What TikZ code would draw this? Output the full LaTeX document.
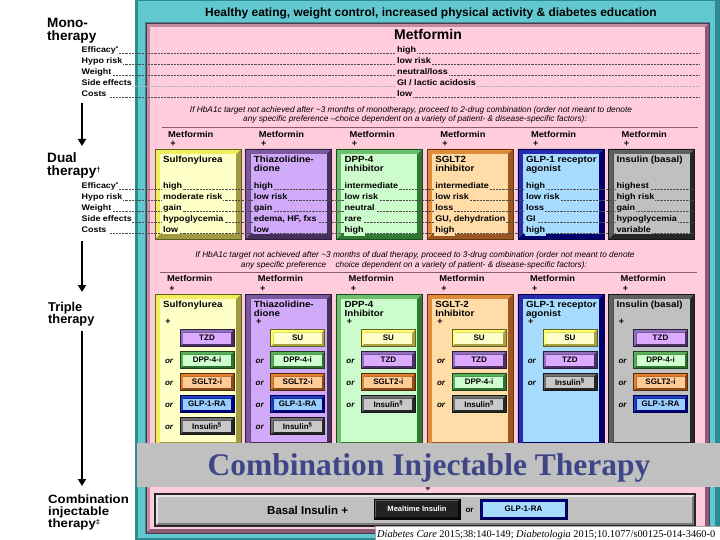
\documentclass[tikz,border=0pt]{standalone}
\usepackage{fontspec}
\setmainfont{Liberation Sans}
\newfontfamily\serf{Liberation Serif}
\newfontfamily\wsans{Liberation Sans}[FakeStretch=1.1]
\usetikzlibrary{arrows.meta}
\newcommand{\fsz}[1]{\fontsize{#1}{#1}\selectfont}
% frame colours
\definecolor{tealL}{HTML}{62C8D0}
\definecolor{tealD}{HTML}{2E8A92}
\definecolor{pkF}{HTML}{FFCCDC}
\definecolor{pkL}{HTML}{C48CA0}
\definecolor{pkD}{HTML}{8A5A78}
\definecolor{bandG}{HTML}{C0C0C0}
\definecolor{bandT}{HTML}{3E4688}
% big boxes
\definecolor{suF}{HTML}{FFFFC8}\definecolor{suL}{HTML}{F2EE5E}\definecolor{suD}{HTML}{A09A40}
\definecolor{tzF}{HTML}{D0AAF8}\definecolor{tzL}{HTML}{7A5A9E}\definecolor{tzD}{HTML}{45305C}
\definecolor{dpF}{HTML}{CCFCCC}\definecolor{dpL}{HTML}{6CBF6C}\definecolor{dpD}{HTML}{2F7A30}
\definecolor{sgF}{HTML}{FFDCA8}\definecolor{sgL}{HTML}{E08A3C}\definecolor{sgD}{HTML}{9A5520}
\definecolor{glF}{HTML}{A8DCFF}\definecolor{glL}{HTML}{2A2AB0}\definecolor{glD}{HTML}{00006E}
\definecolor{inF}{HTML}{C0C0C0}\definecolor{inL}{HTML}{606060}\definecolor{inD}{HTML}{262626}
% small boxes
\definecolor{sSUF}{HTML}{FFFFCC}\definecolor{sSUL}{HTML}{FFFF70}\definecolor{sSUD}{HTML}{A8A040}
\definecolor{sTZF}{HTML}{DCAAFF}\definecolor{sTZL}{HTML}{9070B8}\definecolor{sTZD}{HTML}{4A3060}
\definecolor{sDPF}{HTML}{D0FFD0}\definecolor{sDPL}{HTML}{5CB05C}\definecolor{sDPD}{HTML}{2E7030}
\definecolor{sSGF}{HTML}{FFCC99}\definecolor{sSGL}{HTML}{E08030}\definecolor{sSGD}{HTML}{8A4A18}
\definecolor{sGLF}{HTML}{99CCFF}\definecolor{sGLL}{HTML}{2040C0}\definecolor{sGLD}{HTML}{000080}
\definecolor{sINF}{HTML}{C8C8C8}\definecolor{sINL}{HTML}{707070}\definecolor{sIND}{HTML}{262626}
% bottom boxes
\definecolor{bsF}{HTML}{C0C0C0}\definecolor{bsL}{HTML}{E6E6E6}\definecolor{bsD}{HTML}{7A7A7A}
\definecolor{mtF}{HTML}{222222}\definecolor{mtL}{HTML}{606060}\definecolor{mtD}{HTML}{0A0A0A}
\definecolor{bgF}{HTML}{A8DCFF}\definecolor{bgL}{HTML}{000090}\definecolor{bgD}{HTML}{00006A}
% bevelled box: x1 y1 x2 y2 bevel family
\newcommand{\bev}[6]{%
  \fill[fill=#6D] ({#1},{#2}) rectangle ({#3},{#4});
  \fill[fill=#6L] ({#1},{#2}) -- ({#3},{#2}) -- ({#3-#5},{#2+#5}) -- ({#1+#5},{#2+#5}) -- ({#1+#5},{#4-#5}) -- ({#1},{#4}) -- cycle;
  \fill[fill=#6F] ({#1+#5},{#2+#5}) rectangle ({#3-#5},{#4-#5});
  \draw[draw=#6D!60!black, line width=0.5pt] ({#1},{#2}) rectangle ({#3},{#4});
}
\begin{document}
\begin{tikzpicture}[x=1pt,y=-1pt,
  lab/.style={anchor=base west, inner sep=0.5pt, fill=white, font=\wsans\fsz{8.1}\bfseries},
  bigl/.style={anchor=base west, inner sep=0pt, font=\fsz{13.6}\bfseries},
  rowt/.style={anchor=base west, inner sep=1pt, font=\wsans\fsz{8.2}\bfseries},
  boxt/.style={anchor=base west, inner sep=0pt, font=\wsans\fsz{8.9}\bfseries},
  colhd/.style={anchor=base west, inner sep=0pt, font=\wsans\fsz{8.5}\bfseries},
  plus/.style={inner sep=0pt, font=\fsz{9}\bfseries},
  note/.style={anchor=base, inner sep=0pt, font=\fsz{8.3}\itshape},
  dots/.style={densely dotted, line width=0.45pt, black!70},
  subt/.style={inner sep=0pt, font=\fsz{8}\bfseries},
  ortxt/.style={anchor=base, inner sep=0pt, font=\fsz{8}\bfseries\itshape},
  sepline/.style={draw=pkD, line width=1.6pt},
  arr/.style={line width=1.8pt, -{Triangle[width=8pt,length=7pt]}}]
\useasboundingbox (0,0) rectangle (720,540);
\fill[white] (0,0) rectangle (720,540);

% ---------- frames ----------
\fill[tealL] (135,0) rectangle (720,540);
\fill[tealD] (135,0) rectangle (137.5,540);
\fill[tealD] (714.5,0) rectangle (720,540);
\fill[tealD] (135,537.5) rectangle (720,540);
\fill[tealD] (135,0) rectangle (720,1.5);
\draw[tealD, line width=1.2pt] (145.4,22.4) rectangle (709.6,533.6);
\bev{146}{23}{709}{533}{4}{pk}
\node[anchor=base, inner sep=0pt, font=\fsz{11.95}\bfseries] (title) at (431,17)
  {Healthy eating, weight control, increased physical activity \& diabetes education};

% ---------- dual boxes ----------
\foreach \i/\cf in {0/su,1/tz,2/dp,3/sg,4/gl,5/in}{
  \pgfmathsetmacro\xL{155+90.7*\i}
  \bev{\xL}{149}{\xL+86}{239}{5}{\cf}
}
% ---------- triple boxes ----------
\foreach \i/\cf in {0/su,1/tz,2/dp,3/sg,4/gl,5/in}{
  \pgfmathsetmacro\xL{155+90.7*\i}
  \bev{\xL}{294}{\xL+86}{447}{5}{\cf}
}
% sub boxes
\foreach \i/\j/\cf/\t in {0/0/sTZ/TZD,0/1/sDP/DPP-4-i,0/2/sSG/SGLT2-i,0/3/sGL/GLP-1-RA,0/4/sIN/Insulin\textsuperscript{\S},
  1/0/sSU/SU,1/1/sDP/DPP-4-i,1/2/sSG/SGLT2-i,1/3/sGL/GLP-1-RA,1/4/sIN/Insulin\textsuperscript{\S},
  2/0/sSU/SU,2/1/sTZ/TZD,2/2/sSG/SGLT2-i,2/3/sIN/Insulin\textsuperscript{\S},
  3/0/sSU/SU,3/1/sTZ/TZD,3/2/sDP/DPP-4-i,3/3/sIN/Insulin\textsuperscript{\S},
  4/0/sSU/SU,4/1/sTZ/TZD,4/2/sIN/Insulin\textsuperscript{\S},
  5/0/sTZ/TZD,5/1/sDP/DPP-4-i,5/2/sSG/SGLT2-i,5/3/sGL/GLP-1-RA}{
  \pgfmathsetmacro\xL{155+90.7*\i}
  \pgfmathsetmacro\yc{338+22*\j}
  \bev{\xL+25}{\yc-8.5}{\xL+79}{\yc+8.5}{3}{\cf}
  \node[subt] (sb\i\j) at ({\xL+52},{\yc}) {\t};
  \ifnum\j>0 \node[ortxt] (or\i\j) at ({\xL+14},{\yc+3}) {or};\fi
}

% ---------- dotted guide lines ----------
\foreach \y in {53,64,75,97}{ \draw[dots] (110,\y) -- (700,\y); }
\draw[dots, black!30] (110,86) -- (700,86);
\foreach \y in {189,200,211,222,233}{ \draw[dots] (110,\y) -- (693,\y); }

% ---------- left side labels ----------
\node[bigl] (mono1) at (47,27.5) {Mono-};
\node[bigl] (mono2) at (47,40.5) {therapy};
\foreach \n/\y/\t in {1/53/Efficacy\textsuperscript{*},2/64/Hypo risk,3/75/Weight,4/86/Side effects,5/97/Costs}{
  \node[lab] (ml\n) at (81,\y) {\t};
}
\node[bigl] (dual1) at (47,162.5) {Dual};
\node[bigl] (dual2) at (47,176) {therapy\raisebox{3.5pt}{\fsz{7.5}\dag}};
\foreach \n/\y/\t in {1/189/Efficacy\textsuperscript{*},2/200/Hypo risk,3/211/Weight,4/222/Side effects,5/233/Costs}{
  \node[lab] (dl\n) at (81,\y) {\t};
}
\node[bigl, font=\fsz{12.8}\bfseries] (trip1) at (48,311) {Triple};
\node[bigl, font=\fsz{12.8}\bfseries] (trip2) at (48,323) {therapy};
\node[bigl, font=\wsans\fsz{12}\bfseries] (comb1) at (48,503) {Combination};
\node[bigl, font=\wsans\fsz{12}\bfseries] (comb2) at (48,515) {injectable};
\node[bigl, font=\wsans\fsz{12}\bfseries] (comb3) at (48,527.5) {therapy\raisebox{3pt}{\fsz{7}\ddag}};

% arrows
\coordinate (a1s) at (82,103); \coordinate (a1e) at (82,146);
\coordinate (a2s) at (82,241); \coordinate (a2e) at (82,292);
\coordinate (a3s) at (82,331); \coordinate (a3e) at (82,486);
\draw[arr] (a1s) -- (a1e);
\draw[arr] (a2s) -- (a2e);
\draw[arr] (a3s) -- (a3e);

% ---------- monotherapy ----------
\node[anchor=base west, inner sep=0pt, font=\fsz{14}\bfseries] (met) at (394,40) {Metformin};
\foreach \n/\y/\t in {1/53/high,2/64/low risk,3/75/{neutral/loss},4/86/{GI / lactic acidosis},5/97/low}{
  \node[rowt, fill=pkF] (mr\n) at (396,\y) {\t};
}
\node[note] (n1a) at (411,113) {If HbA1c target not achieved after \textasciitilde3 months of monotherapy, proceed to 2-drug combination (order not meant to denote};
\node[note] (n1b) at (415,122) {any specific preference \textendash choice dependent on a variety of patient- \& disease-specific factors):};
\draw[sepline] (162,127.5) -- (698,127.5);

% ---------- dual therapy texts ----------
\foreach \i/\cf/\ta/\tb/\ra/\rb/\rc/\rd/\re in {
  0/su/Sulfonylurea//high/moderate risk/gain/hypoglycemia/low,
  1/tz/Thiazolidine-/dione/high/low risk/gain/{edema, HF, fxs}/low,
  2/dp/DPP-4/inhibitor/intermediate/low risk/neutral/rare/high,
  3/sg/SGLT2/inhibitor/intermediate/low risk/loss/{GU, dehydration}/high,
  4/gl/GLP-1 receptor/agonist/high/low risk/loss/GI/high,
  5/in/Insulin (basal)//highest/high risk/gain/hypoglycemia/variable}{
  \pgfmathsetmacro\xL{155+90.7*\i}
  \node[colhd] (dm\i) at ({\xL+13},138) {Metformin};
  \node[plus] (dp\i) at ({\xL+18},143.5) {+};
  \node[boxt] (dta\i) at ({\xL+8},163) {\ta};
  \node[boxt] (dtb\i) at ({\xL+8},172) {\tb};
  \node[rowt, fill=\cf F] (dra\i) at ({\xL+7},189) {\ra};
  \node[rowt, fill=\cf F] (drb\i) at ({\xL+7},200) {\rb};
  \node[rowt, fill=\cf F] (drc\i) at ({\xL+7},211) {\rc};
  \node[rowt, fill=\cf F] (drd\i) at ({\xL+7},222) {\rd};
  \node[rowt, fill=\cf F] (dre\i) at ({\xL+7},233) {\re};
}
\node[note] (n2a) at (415,258) {If HbA1c target not achieved after \textasciitilde3 months of dual therapy, proceed to 3-drug combination (order not meant to denote};
\node[note] (n2b) at (414,267) {any specific preference \ \ \ choice dependent on a variety of patient- \& disease-specific factors):};
\draw[sepline] (160,272.5) -- (697,272.5);

% ---------- triple therapy texts ----------
\foreach \i/\ta/\tb in {0/Sulfonylurea/,1/Thiazolidine-/dione,2/DPP-4/Inhibitor,3/SGLT-2/Inhibitor,4/GLP-1 receptor/agonist,5/Insulin (basal)/}{
  \pgfmathsetmacro\xL{155+90.7*\i}
  \node[colhd] (tm\i) at ({\xL+12},281) {Metformin};
  \node[plus] (tp\i) at ({\xL+17},288.5) {+};
  \node[boxt] (tta\i) at ({\xL+8},307) {\ta};
  \node[boxt] (ttb\i) at ({\xL+8},316) {\tb};
  \node[plus] (tq\i) at ({\xL+13},321.5) {+};
}

% ---------- combination injectable ----------
\node[plus] (plus5) at (428,489) {+};
\fill[bandG] (137,443) rectangle (720,487);
\node[anchor=base, inner sep=0pt, text=bandT, font=\serf\fsz{31.5}\bfseries] (band) at (429,475) {Combination Injectable Therapy};
\bev{155}{494}{695}{526}{3.5}{bs}
\draw[black!85, line width=1.3pt] (155,494) rectangle (695,526);
\node[anchor=base west, inner sep=0pt, font=\fsz{11.5}\bfseries] (basal) at (267,514) {Basal Insulin +};
\bev{374}{499}{460}{519}{2}{mt}
\node[inner sep=0pt, text=white, font=\fsz{7.6}\bfseries] (meal) at (417,509) {Mealtime Insulin};
\node[anchor=base, inner sep=0pt, font=\fsz{8}\bfseries] (orb) at (469.5,512) {or};
\bev{480}{499}{567}{519}{2.5}{bg}
\node[inner sep=0pt, font=\fsz{8}\bfseries] (glpb) at (523.5,509) {GLP-1-RA};

% citation
\fill[white] (375,526.5) rectangle (720,540);
\draw[black!35, line width=0.4pt] (375,526.5) rectangle (721,541);
\node[anchor=base west, inner sep=0pt, font=\serf\fsz{10.35}] (cite) at (377,537)
  {\textit{Diabetes Care} 2015;38:140-149; \textit{Diabetologia} 2015;10.1077/s00125-014-3460-0};
\end{tikzpicture}
\end{document}
